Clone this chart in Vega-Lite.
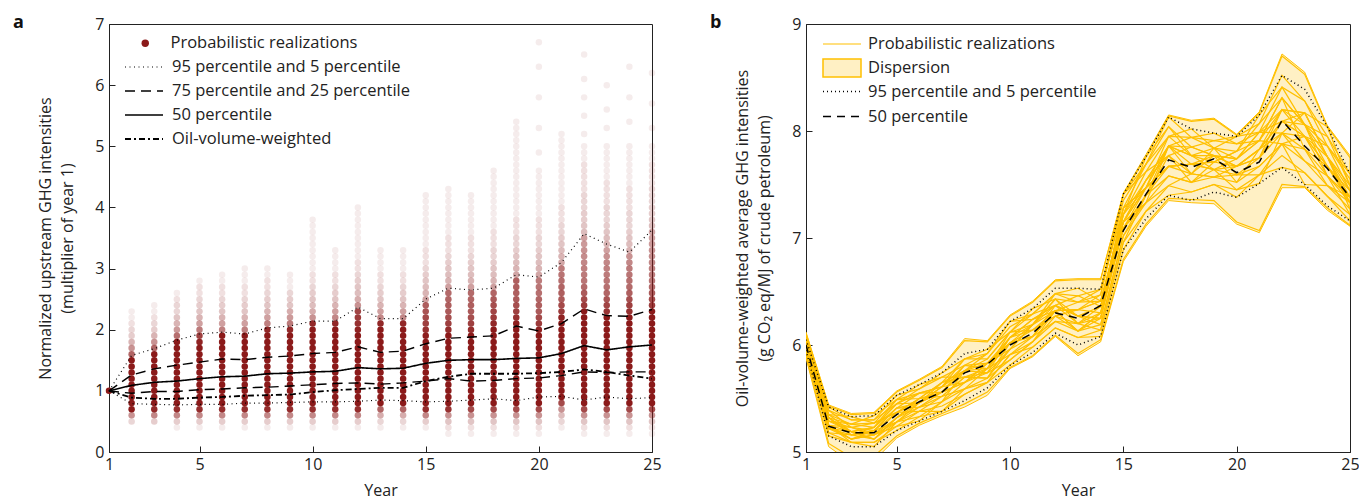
{
"$schema":"https://vega.github.io/schema/vega-lite/v6.json",
"padding":{"left":12,"top":13,"right":2,"bottom":2},
"spacing":47,
"config":{
 "font":"Open Sans",
 "view":{"stroke":"#222","strokeWidth":1},
 "axis":{"domainColor":"#222","tickColor":"#222","labelColor":"#222","titleColor":"#222","labelFontSize":16,"titleFontSize":16,"titleFontWeight":"normal","grid":false,"tickSize":-6,"labelPadding":11,"titlePadding":19,"labelFont":"Open Sans","titleFont":"Open Sans","titleLineHeight":22,"labelFlush":false,"format":"d"},
 "legend":{"labelFontSize":16.5,"labelColor":"#222","labelFont":"Open Sans","padding":0,"titlePadding":0,"labelLimit":500},
 "title":{"font":"Open Sans"}
},
"datasets":{
"sc":[
{"year":1,"v":[1],"n":[1000]},
{"year":2,"v":[0.5,0.6,0.7,0.8,0.9,1,1.1,1.2,1.3,1.4,1.5,1.6,1.7,1.8,1.9,2,2.1,2.2,2.3],"n":[3,12,35,100,100,166,166,166,80,65,55,20,12,7,4,3,2,1,1]},
{"year":3,"v":[0.5,0.6,0.7,0.8,0.9,1,1.1,1.2,1.3,1.4,1.5,1.6,1.7,1.8,1.9,2,2.1,2.2,2.3,2.4],"n":[4,14,32,100,100,125,125,125,125,80,65,55,20,12,7,4,3,2,1,1]},
{"year":4,"v":[0.4,0.5,0.6,0.7,0.8,0.9,1,1.1,1.2,1.3,1.4,1.5,1.6,1.7,1.8,1.9,2,2.1,2.2,2.3,2.4,2.5,2.6],"n":[1,4,14,31,100,100,100,100,100,100,100,65,52,45,38,18,11,7,5,3,3,2,1]},
{"year":5,"v":[0.4,0.5,0.6,0.7,0.8,0.9,1,1.1,1.2,1.3,1.4,1.5,1.6,1.7,1.8,1.9,2,2.1,2.2,2.3,2.4,2.5,2.6,2.7,2.8],"n":[1,4,14,31,67,67,67,125,125,125,125,55,45,40,33,27,16,10,7,5,4,3,2,2,1]},
{"year":6,"v":[0.4,0.5,0.6,0.7,0.8,0.9,1,1.1,1.2,1.3,1.4,1.5,1.6,1.7,1.8,1.9,2,2.1,2.2,2.3,2.4,2.5,2.6,2.7,2.8,2.9],"n":[1,4,14,31,67,67,67,100,100,100,100,100,60,52,45,40,15,10,7,5,4,3,2,2,1,1]},
{"year":7,"v":[0.4,0.5,0.6,0.7,0.8,0.9,1,1.1,1.2,1.3,1.4,1.5,1.6,1.7,1.8,1.9,2,2.1,2.2,2.3,2.4,2.5,2.6,2.7,2.8,2.9,3],"n":[1,4,14,31,67,67,67,100,100,100,100,100,60,52,45,40,15,10,7,5,4,3,2,2,1,1,1]},
{"year":8,"v":[0.4,0.5,0.6,0.7,0.8,0.9,1,1.1,1.2,1.3,1.4,1.5,1.6,1.7,1.8,1.9,2,2.1,2.2,2.3,2.4,2.5,2.6,2.7,2.8,2.9,3],"n":[1,4,14,31,67,67,67,100,100,100,100,100,50,45,38,35,32,15,10,7,5,4,3,2,2,1,1]},
{"year":9,"v":[0.4,0.5,0.6,0.7,0.8,0.9,1,1.1,1.2,1.3,1.4,1.5,1.6,1.7,1.8,1.9,2,2.1,2.2,2.3,2.4,2.5,2.6,2.7,2.8,2.9],"n":[1,4,14,31,67,67,67,100,100,100,100,100,50,45,38,35,32,16,11,8,5,4,3,1,1,1]},
{"year":10,"v":[0.4,0.5,0.6,0.7,0.8,0.9,1,1.1,1.2,1.3,1.4,1.5,1.6,1.7,1.8,1.9,2,2.1,2.2,2.3,2.4,2.5,2.6,2.7,2.8,2.9,3,3.1,3.2,3.3,3.4,3.5,3.6,3.7,3.8],"n":[1,4,14,31,67,67,67,83,83,83,83,83,83,50,45,38,35,32,12,8,6,5,4,3,2,2,1,1,1,1,1,1,1,1,1]},
{"year":11,"v":[0.4,0.5,0.6,0.7,0.8,0.9,1,1.1,1.2,1.3,1.4,1.5,1.6,1.7,1.8,1.9,2,2.1,2.2,2.3,2.4,2.5,2.6,2.7,2.8,2.9,3,3.1,3.2,3.3],"n":[1,4,14,31,67,67,67,83,83,83,83,83,83,50,45,38,35,32,14,10,7,5,4,3,2,2,1,1,1,1]},
{"year":12,"v":[0.4,0.5,0.6,0.7,0.8,0.9,1,1.1,1.2,1.3,1.4,1.5,1.6,1.7,1.8,1.9,2,2.1,2.2,2.3,2.4,2.5,2.6,2.7,2.8,2.9,3,3.1,3.2,3.3,3.4,3.5,3.6,3.7,3.8,3.9,4],"n":[1,4,14,31,50,50,50,50,83,83,83,83,83,83,45,38,33,30,28,26,12,8,6,5,4,3,2,2,1,1,1,1,1,1,1,1,1]},
{"year":13,"v":[0.4,0.5,0.6,0.7,0.8,0.9,1,1.1,1.2,1.3,1.4,1.5,1.6,1.7,1.8,1.9,2,2.1,2.2,2.3,2.4,2.5,2.6,2.7,2.8,2.9,3,3.1,3.2,3.3],"n":[1,3,8,20,40,67,67,67,100,100,100,100,100,50,45,38,35,32,14,10,7,5,4,3,2,2,1,1,1,1]},
{"year":14,"v":[0.4,0.5,0.6,0.7,0.8,0.9,1,1.1,1.2,1.3,1.4,1.5,1.6,1.7,1.8,1.9,2,2.1,2.2,2.3,2.4,2.5,2.6,2.7,2.8,2.9,3,3.1,3.2,3.3],"n":[1,3,8,20,40,67,67,67,100,100,100,100,100,50,45,38,35,32,14,10,7,5,4,3,2,2,1,1,1,1]},
{"year":15,"v":[0.4,0.5,0.6,0.7,0.8,0.9,1,1.1,1.2,1.3,1.4,1.5,1.6,1.7,1.8,1.9,2,2.1,2.2,2.3,2.4,2.5,2.6,2.7,2.8,2.9,3,3.1,3.2,3.3,3.4,3.5,3.6,3.7,3.8,3.9,4,4.1,4.2],"n":[1,4,14,31,50,50,50,50,83,83,83,83,83,83,40,34,30,27,25,23,21,10,7,6,5,4,3,2,2,2,1,1,1,1,1,1,1,1,1]},
{"year":16,"v":[0.3,0.4,0.5,0.6,0.7,0.8,0.9,1,1.1,1.2,1.3,1.4,1.5,1.6,1.7,1.8,1.9,2,2.1,2.2,2.3,2.4,2.5,2.6,2.7,2.8,2.9,3,3.1,3.2,3.3,3.4,3.5,3.6,3.7,3.8,3.9,4,4.1,4.2,4.3],"n":[1,2,5,12,30,50,50,50,50,71,71,71,71,71,71,71,36,31,27,24,22,21,20,19,10,7,6,5,4,3,2,2,2,1,1,1,1,1,1,1,1]},
{"year":17,"v":[0.3,0.4,0.5,0.6,0.7,0.8,0.9,1,1.1,1.2,1.3,1.4,1.5,1.6,1.7,1.8,1.9,2,2.1,2.2,2.3,2.4,2.5,2.6,2.7,2.8,2.9,3,3.1,3.2,3.3,3.4,3.5,3.6,3.7,3.8,3.9,4,4.1,4.2],"n":[1,2,5,12,25,40,67,67,67,71,71,71,71,71,71,71,36,31,27,24,22,21,20,19,10,7,6,5,4,3,2,2,2,1,1,1,1,1,1,1]},
{"year":18,"v":[0.3,0.4,0.5,0.6,0.7,0.8,0.9,1,1.1,1.2,1.3,1.4,1.5,1.6,1.7,1.8,1.9,2,2.1,2.2,2.3,2.4,2.5,2.6,2.7,2.8,2.9,3,3.1,3.2,3.3,3.4,3.5,3.6,3.7,3.8,3.9,4,4.1,4.2,4.3,4.4,4.5,4.6],"n":[1,2,5,12,25,40,67,67,67,62,62,62,62,62,62,62,62,38,32,28,26,24,22,20,10,7,6,5,4,3,3,2,2,2,1,1,1,1,1,1,1,1,1,1]},
{"year":19,"v":[0.3,0.4,0.5,0.6,0.7,0.8,0.9,1,1.1,1.2,1.3,1.4,1.5,1.6,1.7,1.8,1.9,2,2.1,2.2,2.3,2.4,2.5,2.6,2.7,2.8,2.9,3,3.1,3.2,3.3,3.4,3.5,3.6,3.7,3.8,3.9,4,4.1,4.2,4.3,4.4,4.5,4.6,4.7,4.8,4.9,5,5.1,5.2,5.3,5.4],"n":[1,2,5,12,25,40,67,67,67,56,56,56,56,56,56,56,56,56,34,30,27,24,22,21,21,21,9,7,6,5,4,3,3,2,2,2,1,1,1,1,1,1,1,1,1,1,1,1,1,1,1,1]},
{"year":20,"v":[0.3,0.4,0.5,0.6,0.7,0.8,0.9,1,1.1,1.2,1.3,1.4,1.5,1.6,1.7,1.8,1.9,2,2.1,2.2,2.3,2.4,2.5,2.6,2.7,2.8,2.9,3,3.1,3.2,3.3,3.4,3.5,3.6,3.7,3.8,3.9,4,4.1,4.2,4.3,4.4,4.5,4.6,4.9,5.3,5.8,6.3,6.7],"n":[1,2,5,12,25,40,50,50,50,50,71,71,71,71,71,71,71,33,28,25,22,21,20,18,17,16,9,7,6,5,4,3,3,2,2,2,1,1,1,1,1,1,1,1,1,1,1,1,1]},
{"year":21,"v":[0.4,0.5,0.6,0.7,0.8,0.9,1,1.1,1.2,1.3,1.4,1.5,1.6,1.7,1.8,1.9,2,2.1,2.2,2.3,2.4,2.5,2.6,2.7,2.8,2.9,3,3.1,3.2,3.3,3.4,3.5,3.6,3.7,3.8,3.9,4,4.1,4.2,4.3,4.4,4.5,4.6,4.7,4.8,4.9,5,5.1,5.2],"n":[1,3,6,12,25,40,67,67,67,56,56,56,56,56,56,56,56,56,33,28,25,22,21,20,18,17,16,9,7,6,5,4,3,3,2,2,2,1,1,1,1,1,1,1,1,1,1,1,1]},
{"year":22,"v":[0.3,0.4,0.5,0.6,0.7,0.8,0.9,1,1.1,1.2,1.3,1.4,1.5,1.6,1.7,1.8,1.9,2,2.1,2.2,2.3,2.4,2.5,2.6,2.7,2.8,2.9,3,3.1,3.2,3.3,3.4,3.5,3.6,3.7,3.8,3.9,4,4.1,4.2,4.3,4.4,4.5,4.6,4.7,4.8,4.9,5,5.2,5.5,5.8,6.1,6.5],"n":[1,2,5,12,25,40,40,40,40,40,40,50,50,50,50,50,50,50,50,50,50,28,25,22,19,17,16,15,14,13,12,11,10,6,5,4,4,3,3,3,2,2,2,2,2,1,1,1,1,1,1,1,1]},
{"year":23,"v":[0.3,0.4,0.5,0.6,0.7,0.8,0.9,1,1.1,1.2,1.3,1.4,1.5,1.6,1.7,1.8,1.9,2,2.1,2.2,2.3,2.4,2.5,2.6,2.7,2.8,2.9,3,3.1,3.2,3.3,3.4,3.5,3.6,3.7,3.8,3.9,4,4.1,4.2,4.3,4.4,4.5,4.6,4.7,4.8,4.9,5,5.3,5.6,6],"n":[1,2,5,12,25,40,40,40,40,40,40,56,56,56,56,56,56,56,56,56,29,26,23,20,18,17,16,15,14,12,10,7,6,5,4,3,3,3,2,2,2,2,1,1,1,1,1,1,1,1,1]},
{"year":24,"v":[0.3,0.4,0.5,0.6,0.7,0.8,0.9,1,1.1,1.2,1.3,1.4,1.5,1.6,1.7,1.8,1.9,2,2.1,2.2,2.3,2.4,2.5,2.6,2.7,2.8,2.9,3,3.1,3.2,3.3,3.4,3.5,3.6,3.7,3.8,3.9,4,4.1,4.2,4.3,4.4,4.5,4.6,4.7,4.8,4.9,5,5.4,5.8,6.3],"n":[1,2,5,12,25,40,40,40,40,40,40,56,56,56,56,56,56,56,56,56,30,27,24,21,19,18,17,16,14,12,7,6,5,4,3,3,3,2,2,2,2,1,1,1,1,1,1,1,1,1,1]},
{"year":25,"v":[0.3,0.4,0.5,0.6,0.7,0.8,0.9,1,1.1,1.2,1.3,1.4,1.5,1.6,1.7,1.8,1.9,2,2.1,2.2,2.3,2.4,2.5,2.6,2.7,2.8,2.9,3,3.1,3.2,3.3,3.4,3.5,3.6,3.7,3.8,3.9,4,4.1,4.2,4.3,4.4,4.5,4.6,4.7,4.8,4.9,5,5.3,5.7,6.2],"n":[1,2,5,12,25,40,40,40,40,40,40,50,50,50,50,50,50,50,50,50,50,28,25,22,19,17,16,15,14,13,12,11,10,9,6,5,4,4,3,3,3,2,2,2,2,1,1,1,1,1,1]}
],
"pa":[
{"year":1,"p5":1,"p25":1,"p50":1,"p75":1,"p95":1,"ovw":1},
{"year":2,"p5":0.79,"p25":0.96,"p50":1.09,"p75":1.26,"p95":1.58,"ovw":0.89},
{"year":3,"p5":0.78,"p25":0.99,"p50":1.14,"p75":1.36,"p95":1.69,"ovw":0.87},
{"year":4,"p5":0.77,"p25":0.99,"p50":1.16,"p75":1.42,"p95":1.83,"ovw":0.87},
{"year":5,"p5":0.78,"p25":1.02,"p50":1.2,"p75":1.47,"p95":1.93,"ovw":0.89},
{"year":6,"p5":0.78,"p25":1.03,"p50":1.23,"p75":1.52,"p95":1.96,"ovw":0.9},
{"year":7,"p5":0.8,"p25":1.05,"p50":1.24,"p75":1.51,"p95":1.93,"ovw":0.92},
{"year":8,"p5":0.8,"p25":1.06,"p50":1.28,"p75":1.55,"p95":2.03,"ovw":0.93},
{"year":9,"p5":0.81,"p25":1.08,"p50":1.29,"p75":1.57,"p95":2.06,"ovw":0.94},
{"year":10,"p5":0.82,"p25":1.1,"p50":1.31,"p75":1.61,"p95":2.14,"ovw":0.98},
{"year":11,"p5":0.82,"p25":1.12,"p50":1.32,"p75":1.63,"p95":2.14,"ovw":1.01},
{"year":12,"p5":0.83,"p25":1.13,"p50":1.38,"p75":1.72,"p95":2.37,"ovw":1.03},
{"year":13,"p5":0.85,"p25":1.11,"p50":1.36,"p75":1.63,"p95":2.18,"ovw":1.05},
{"year":14,"p5":0.84,"p25":1.13,"p50":1.37,"p75":1.65,"p95":2.18,"ovw":1.05},
{"year":15,"p5":0.82,"p25":1.16,"p50":1.45,"p75":1.77,"p95":2.5,"ovw":1.16},
{"year":16,"p5":0.83,"p25":1.2,"p50":1.5,"p75":1.86,"p95":2.68,"ovw":1.23},
{"year":17,"p5":0.85,"p25":1.16,"p50":1.51,"p75":1.88,"p95":2.65,"ovw":1.28},
{"year":18,"p5":0.87,"p25":1.17,"p50":1.51,"p75":1.9,"p95":2.68,"ovw":1.28},
{"year":19,"p5":0.84,"p25":1.2,"p50":1.53,"p75":2.06,"p95":2.9,"ovw":1.28},
{"year":20,"p5":0.9,"p25":1.21,"p50":1.54,"p75":1.98,"p95":2.86,"ovw":1.29},
{"year":21,"p5":0.91,"p25":1.25,"p50":1.61,"p75":2.1,"p95":3.1,"ovw":1.31},
{"year":22,"p5":0.85,"p25":1.31,"p50":1.74,"p75":2.34,"p95":3.57,"ovw":1.35},
{"year":23,"p5":0.9,"p25":1.3,"p50":1.67,"p75":2.23,"p95":3.4,"ovw":1.31},
{"year":24,"p5":0.87,"p25":1.31,"p50":1.72,"p75":2.22,"p95":3.27,"ovw":1.25},
{"year":25,"p5":0.89,"p25":1.31,"p50":1.75,"p75":2.33,"p95":3.63,"ovw":1.2}
],
"pb":[
{"year":1,"mn":5.88,"mx":6.12,"p5":5.95,"p50":6,"p95":6.05},
{"year":2,"mn":5.05,"mx":5.44,"p5":5.15,"p50":5.24,"p95":5.42},
{"year":3,"mn":4.9,"mx":5.36,"p5":5.05,"p50":5.18,"p95":5.33},
{"year":4,"mn":4.92,"mx":5.37,"p5":5.05,"p50":5.18,"p95":5.34},
{"year":5,"mn":5.13,"mx":5.57,"p5":5.2,"p50":5.35,"p95":5.53},
{"year":6,"mn":5.25,"mx":5.68,"p5":5.29,"p50":5.47,"p95":5.63},
{"year":7,"mn":5.34,"mx":5.8,"p5":5.38,"p50":5.56,"p95":5.74},
{"year":8,"mn":5.42,"mx":6.06,"p5":5.48,"p50":5.74,"p95":5.92},
{"year":9,"mn":5.53,"mx":6.04,"p5":5.6,"p50":5.82,"p95":5.96},
{"year":10,"mn":5.78,"mx":6.28,"p5":5.81,"p50":6,"p95":6.22},
{"year":11,"mn":5.89,"mx":6.41,"p5":5.93,"p50":6.11,"p95":6.34},
{"year":12,"mn":6.08,"mx":6.61,"p5":6.11,"p50":6.3,"p95":6.53},
{"year":13,"mn":5.9,"mx":6.62,"p5":6,"p50":6.25,"p95":6.53},
{"year":14,"mn":6.03,"mx":6.62,"p5":6.08,"p50":6.37,"p95":6.52},
{"year":15,"mn":6.78,"mx":7.42,"p5":6.89,"p50":7.07,"p95":7.41},
{"year":16,"mn":7.11,"mx":7.78,"p5":7.18,"p50":7.41,"p95":7.76},
{"year":17,"mn":7.35,"mx":8.15,"p5":7.4,"p50":7.73,"p95":8.13},
{"year":18,"mn":7.33,"mx":8.1,"p5":7.35,"p50":7.66,"p95":8.02},
{"year":19,"mn":7.32,"mx":8.12,"p5":7.43,"p50":7.74,"p95":7.98},
{"year":20,"mn":7.13,"mx":7.97,"p5":7.38,"p50":7.61,"p95":7.95},
{"year":21,"mn":7.05,"mx":8.18,"p5":7.51,"p50":7.71,"p95":8.15},
{"year":22,"mn":7.47,"mx":8.72,"p5":7.66,"p50":8.1,"p95":8.52},
{"year":23,"mn":7.47,"mx":8.55,"p5":7.5,"p50":7.86,"p95":8.39},
{"year":24,"mn":7.26,"mx":8.05,"p5":7.3,"p50":7.65,"p95":8.04},
{"year":25,"mn":7.11,"mx":7.77,"p5":7.16,"p50":7.38,"p95":7.6}
],
"rb":[
{"run":"A","year":[1,2,3,4,5,6,7,8,9,10,11,12,13,14,15,16,17,18,19,20,21,22,23,24,25],"v":[6.00,5.29,5.19,5.23,5.41,5.46,5.56,5.76,5.83,6.02,6.14,6.32,6.33,6.30,7.15,7.47,7.67,7.69,7.71,7.67,7.83,8.09,7.95,7.67,7.38]},
{"run":"B","year":[1,2,3,4,5,6,7,8,9,10,11,12,13,14,15,16,17,18,19,20,21,22,23,24,25],"v":[6.03,5.35,5.26,5.23,5.45,5.55,5.61,5.76,5.87,6.12,6.19,6.43,6.40,6.41,7.22,7.62,7.95,7.77,7.84,7.74,7.99,8.20,8.17,7.76,7.49]},
{"run":"C","year":[1,2,3,4,5,6,7,8,9,10,11,12,13,14,15,16,17,18,19,20,21,22,23,24,25],"v":[5.98,5.25,5.12,5.16,5.32,5.42,5.47,5.65,5.74,5.96,6.08,6.22,6.20,6.25,7.09,7.40,7.67,7.60,7.57,7.59,7.75,7.98,7.83,7.58,7.33]},
{"run":"D","year":[1,2,3,4,5,6,7,8,9,10,11,12,13,14,15,16,17,18,19,20,21,22,23,24,25],"v":[6.05,5.39,5.30,5.30,5.45,5.59,5.70,5.81,5.92,6.17,6.29,6.48,6.40,6.47,7.35,7.69,8.04,7.85,7.91,7.88,7.99,8.41,8.28,7.86,7.55]},
{"run":"E","year":[1,2,3,4,5,6,7,8,9,10,11,12,13,14,15,16,17,18,19,20,21,22,23,24,25],"v":[5.95,5.22,5.16,5.12,5.28,5.33,5.47,5.59,5.69,5.86,6.03,6.22,6.13,6.19,7.02,7.33,7.58,7.52,7.57,7.52,7.67,7.88,7.72,7.49,7.27]},
{"run":"F","year":[1,2,3,4,5,6,7,8,9,10,11,12,13,14,15,16,17,18,19,20,21,22,23,24,25],"v":[6.00,5.25,5.19,5.16,5.37,5.50,5.65,5.70,5.74,6.07,6.24,6.37,6.27,6.25,7.15,7.54,7.77,7.85,7.77,7.67,7.75,8.09,8.06,7.86,7.44]},
{"run":"G","year":[1,2,3,4,5,6,7,8,9,10,11,12,13,14,15,16,17,18,19,20,21,22,23,24,25],"v":[6.08,5.32,5.16,5.20,5.28,5.42,5.56,5.81,5.78,5.91,6.08,6.32,6.33,6.41,7.09,7.33,7.86,7.69,7.64,7.74,7.99,7.98,7.72,7.58,7.38]},
{"run":"H","year":[1,2,3,4,5,6,7,8,9,10,11,12,13,14,15,16,17,18,19,20,21,22,23,24,25],"v":[5.93,5.18,5.09,5.09,5.24,5.38,5.43,5.54,5.65,5.91,5.98,6.16,6.07,6.14,6.96,7.25,7.49,7.43,7.50,7.45,7.59,7.77,7.61,7.39,7.22]},
{"run":"I","year":[1,2,3,4,5,6,7,8,9,10,11,12,13,14,15,16,17,18,19,20,21,22,23,24,25],"v":[6.03,5.29,5.23,5.27,5.37,5.50,5.52,5.70,5.78,6.07,6.14,6.27,6.20,6.36,7.28,7.47,7.86,7.77,7.71,7.81,7.91,8.31,7.83,7.67,7.33]},
{"run":"J","year":[1,2,3,4,5,6,7,8,9,10,11,12,13,14,15,16,17,18,19,20,21,22,23,24,25],"v":[5.98,5.32,5.19,5.12,5.32,5.46,5.61,5.65,5.83,5.96,6.19,6.43,6.27,6.19,7.02,7.40,7.77,7.60,7.77,7.52,7.83,8.20,7.95,7.76,7.27]},
{"run":"K","year":[1,2,3,4,5,6,7,8,9,10,11,12,13,14,15,16,17,18,19,20,21,22,23,24,25],"v":[6.05,5.32,5.26,5.27,5.49,5.50,5.65,5.87,5.87,6.12,6.29,6.37,6.46,6.36,7.28,7.69,7.95,7.94,7.84,7.81,8.07,8.31,8.06,7.95,7.49]},
{"run":"L","year":[1,2,3,4,5,6,7,8,9,10,11,12,13,14,15,16,17,18,19,20,21,22,23,24,25],"v":[5.95,5.22,5.12,5.16,5.28,5.38,5.52,5.59,5.65,5.91,6.03,6.27,6.13,6.30,7.09,7.40,7.58,7.52,7.64,7.59,7.67,7.88,7.83,7.49,7.33]},
{"run":"M","year":[1,2,3,4,5,6,7,8,9,10,11,12,13,14,15,16,17,18,19,20,21,22,23,24,25],"v":[6.08,5.42,5.30,5.30,5.53,5.59,5.74,5.87,5.92,6.22,6.29,6.48,6.46,6.52,7.41,7.69,8.13,7.94,7.91,7.95,8.07,8.52,8.28,7.95,7.60]},
{"run":"N","year":[1,2,3,4,5,6,7,8,9,10,11,12,13,14,15,16,17,18,19,20,21,22,23,24,25],"v":[5.93,5.15,5.09,5.09,5.20,5.33,5.38,5.54,5.65,5.81,5.98,6.16,6.07,6.08,6.89,7.25,7.40,7.43,7.50,7.38,7.59,7.66,7.61,7.39,7.16]},
{"run":"O","year":[1,2,3,4,5,6,7,8,9,10,11,12,13,14,15,16,17,18,19,20,21,22,23,24,25],"v":[6.00,5.32,5.16,5.20,5.41,5.42,5.52,5.70,5.69,6.02,6.08,6.32,6.13,6.30,7.22,7.47,7.67,7.69,7.64,7.67,7.83,7.98,7.95,7.58,7.38]},
{"run":"P","year":[1,2,3,4,5,6,7,8,9,10,11,12,13,14,15,16,17,18,19,20,21,22,23,24,25],"v":[6.03,5.25,5.23,5.20,5.37,5.46,5.56,5.76,5.78,6.02,6.19,6.37,6.27,6.36,7.15,7.54,7.86,7.77,7.77,7.74,7.91,8.20,8.06,7.76,7.44]},
{"run":"Q","year":[1,2,3,4,5,6,7,8,9,10,11,12,13,14,15,16,17,18,19,20,21,22,23,24,25],"v":[5.95,5.29,5.26,5.34,5.49,5.55,5.61,5.87,5.96,6.12,6.14,6.27,6.33,6.47,7.41,7.62,7.77,7.52,7.71,7.81,8.15,8.41,8.06,7.58,7.22]},
{"run":"R","year":[1,2,3,4,5,6,7,8,9,10,11,12,13,14,15,16,17,18,19,20,21,22,23,24,25],"v":[6.05,5.25,5.09,5.05,5.28,5.46,5.65,5.76,5.74,5.86,6.03,6.32,6.40,6.52,7.28,7.47,7.95,8.02,7.84,7.59,7.59,7.88,7.95,7.86,7.60]},
{"run":"S","year":[1,2,3,4,5,6,7,8,9,10,11,12,13,14,15,16,17,18,19,20,21,22,23,24,25],"v":[6.00,5.35,5.33,5.27,5.37,5.38,5.38,5.59,5.78,6.12,6.34,6.43,6.20,6.14,6.96,7.40,7.86,7.94,7.98,7.88,7.91,7.88,7.50,7.49,7.38]},
{"run":"T","year":[1,2,3,4,5,6,7,8,9,10,11,12,13,14,15,16,17,18,19,20,21,22,23,24,25],"v":[5.98,5.18,5.16,5.23,5.49,5.63,5.70,5.70,5.69,5.96,6.19,6.48,6.53,6.41,7.15,7.33,7.49,7.60,7.84,7.95,7.99,8.09,8.17,8.04,7.49]},
{"run":"U","year":[1,2,3,4,5,6,7,8,9,10,11,12,13,14,15,16,17,18,19,20,21,22,23,24,25],"v":[6.03,5.39,5.23,5.16,5.24,5.29,5.47,5.76,5.92,6.22,6.24,6.32,6.13,6.25,7.22,7.76,8.04,7.77,7.64,7.45,7.51,7.98,8.17,7.76,7.33]},
{"run":"V","year":[1,2,3,4,5,6,7,8,9,10,11,12,13,14,15,16,17,18,19,20,21,22,23,24,25],"v":[5.93,5.22,5.19,5.12,5.32,5.50,5.56,5.65,5.83,6.02,6.08,6.37,6.27,6.25,7.15,7.47,7.67,7.69,7.77,7.67,7.83,8.09,7.95,7.67,7.38]},
{"run":"W","year":[1,2,3,4,5,6,7,8,9,10,11,12,13,14,15,16,17,18,19,20,21,22,23,24,25],"v":[6.08,5.35,5.19,5.23,5.45,5.46,5.61,5.81,5.83,6.07,6.19,6.32,6.33,6.41,7.22,7.54,7.86,7.85,7.77,7.74,7.91,8.31,8.06,7.67,7.44]},
{"run":"X","year":[1,2,3,4,5,6,7,8,9,10,11,12,13,14,15,16,17,18,19,20,21,22,23,24,25],"v":[5.95,5.25,5.12,5.20,5.41,5.55,5.56,5.65,5.78,6.07,6.24,6.37,6.20,6.30,7.09,7.47,7.86,7.60,7.57,7.67,7.75,8.20,8.17,7.76,7.38]},
{"run":"Y","year":[1,2,3,4,5,6,7,8,9,10,11,12,13,14,15,16,17,18,19,20,21,22,23,24,25],"v":[5.90,5.08,4.95,4.96,5.15,5.27,5.36,5.45,5.56,5.79,5.90,6.09,5.92,6.05,6.80,7.13,7.37,7.36,7.35,7.15,7.07,7.50,7.48,7.28,7.12]},
{"run":"Z","year":[1,2,3,4,5,6,7,8,9,10,11,12,13,14,15,16,17,18,19,20,21,22,23,24,25],"v":[6.11,5.43,5.35,5.36,5.56,5.67,5.79,6.04,6.03,6.27,6.40,6.60,6.61,6.61,7.41,7.76,8.14,8.09,8.11,7.96,8.17,8.70,8.53,8.04,7.75]}
]
},
"hconcat":[
{
 "width":543,"height":428,
 "title":{"text":"a","anchor":"start","frame":"group","dx":-96,"dy":30,"fontSize":18,"fontWeight":"bold","baseline":"alphabetic","offset":0,"color":"#111"},
 "layer":[
  {
   "data":{"name":"sc"},
   "transform":[{"flatten":["v","n"]}],
   "mark":{"type":"point","filled":true,"size":42,"strokeWidth":0,"shape":"circle"},
   "encoding":{
    "x":{"field":"year","type":"quantitative","scale":{"domain":[1,25],"nice":false,"zero":false},"axis":{"values":[1,5,10,15,20,25],"title":"Year","labelPadding":10,"titlePadding":10}},
    "y":{"field":"v","type":"quantitative","scale":{"domain":[0,7],"nice":false},"axis":{"values":[0,1,2,3,4,5,6,7],"title":["Normalized upstream GHG intensities","(multiplier of year 1)"]}},
    "opacity":{"field":"n","type":"quantitative","scale":{"type":"pow","exponent":0.7,"domain":[0,35],"range":[0,1],"clamp":true},"legend":null},
    "color":{"datum":"Probabilistic realizations","scale":{"range":["#8B1A1A"]},"legend":{"title":null,"orient":"none","legendX":28,"legendY":11,"symbolType":"circle","symbolSize":55,"symbolOpacity":1,"symbolStrokeWidth":0,"labelOffset":17}}
   }
  },
  {
   "data":{"name":"pa"},
   "transform":[
    {"fold":["p95","p5","p75","p25","p50","ovw"],"as":["key","v"]},
    {"lookup":"key","from":{"data":{"values":[
      {"key":"p95","series":"95 percentile and 5 percentile"},
      {"key":"p5","series":"95 percentile and 5 percentile"},
      {"key":"p75","series":"75 percentile and 25 percentile"},
      {"key":"p25","series":"75 percentile and 25 percentile"},
      {"key":"p50","series":"50 percentile"},
      {"key":"ovw","series":"Oil-volume-weighted"}]},"key":"key","fields":["series"]}}
   ],
   "mark":{"type":"line","color":"black"},
   "encoding":{
    "x":{"field":"year","type":"quantitative","scale":{"domain":[1,25],"nice":false,"zero":false}},
    "y":{"field":"v","type":"quantitative","scale":{"domain":[0,7],"nice":false}},
    "detail":{"field":"key"},
    "strokeDash":{"field":"series","type":"ordinal","scale":{"domain":["95 percentile and 5 percentile","75 percentile and 25 percentile","50 percentile","Oil-volume-weighted"],"range":[[1,3.5],[10,6],[1,0],[6,3,2,3]]},"legend":{"title":null,"orient":"none","legendX":15,"legendY":31,"symbolType":"stroke","symbolSize":1444,"symbolStrokeColor":"black","labelOffset":8,"rowPadding":0,"clipHeight":24}},
    "strokeWidth":{"field":"series","type":"ordinal","scale":{"domain":["95 percentile and 5 percentile","75 percentile and 25 percentile","50 percentile","Oil-volume-weighted"],"range":[1.2,1.8,2.2,2.4]},"legend":{"title":null,"orient":"none","legendX":15,"legendY":31,"symbolType":"stroke","symbolSize":1444,"symbolStrokeColor":"black","labelOffset":8,"rowPadding":0,"clipHeight":24}}
   }
  }
 ]
},
{
 "width":544,"height":428,
 "title":{"text":"b","anchor":"start","frame":"group","dx":-96,"dy":30,"fontSize":18,"fontWeight":"bold","baseline":"alphabetic","offset":0,"color":"#111"},
 "layer":[
  {
   "data":{"name":"pb"},
   "mark":{"type":"area","stroke":"#FFC000","strokeWidth":1,"clip":true,"opacity":1,"fillOpacity":1},
   "encoding":{
    "x":{"field":"year","type":"quantitative","scale":{"domain":[1,25],"nice":false,"zero":false},"axis":{"values":[1,5,10,15,20,25],"title":"Year","labelPadding":10,"titlePadding":10}},
    "y":{"field":"mn","type":"quantitative","scale":{"domain":[5,9],"nice":false,"zero":false},"axis":{"values":[5,6,7,8,9],"title":["Oil-volume-weighted average GHG intensities","(g CO₂ eq/MJ of crude petroleum)"]}},
    "y2":{"field":"mx"},
    "fill":{"datum":"Dispersion","scale":{"range":["#FFF0C4"]},"legend":{"title":null,"orient":"none","legendX":16,"legendY":24,"symbolType":"M-1,-0.47H1V0.47H-1Z","symbolSize":1444,"symbolStrokeColor":"#FFC000","symbolStrokeWidth":1.5,"labelOffset":6}}
   }
  },
  {
   "data":{"name":"rb"},
   "transform":[{"flatten":["year","v"]}],
   "mark":{"type":"line","strokeWidth":1.2,"clip":true},
   "encoding":{
    "x":{"field":"year","type":"quantitative","scale":{"domain":[1,25],"nice":false,"zero":false}},
    "y":{"field":"v","type":"quantitative","scale":{"domain":[5,9],"nice":false,"zero":false},"title":["Oil-volume-weighted average GHG intensities","(g CO₂ eq/MJ of crude petroleum)"]},
    "detail":{"field":"run"},
    "stroke":{"datum":"Probabilistic realizations","scale":{"range":["#FFC000"]},"legend":{"title":null,"orient":"none","legendX":16,"legendY":0,"symbolType":"stroke","symbolSize":1444,"symbolStrokeWidth":1.2,"labelOffset":6}}
   }
  },
  {
   "data":{"name":"pb"},
   "transform":[
    {"fold":["p95","p5","p50"],"as":["key","v"]},
    {"lookup":"key","from":{"data":{"values":[
      {"key":"p95","series":"95 percentile and 5 percentile"},
      {"key":"p5","series":"95 percentile and 5 percentile"},
      {"key":"p50","series":"50 percentile"}]},"key":"key","fields":["series"]}}
   ],
   "mark":{"type":"line","color":"black","strokeWidth":1.5,"clip":true},
   "encoding":{
    "x":{"field":"year","type":"quantitative","scale":{"domain":[1,25],"nice":false,"zero":false}},
    "y":{"field":"v","type":"quantitative","scale":{"domain":[5,9],"nice":false,"zero":false},"title":["Oil-volume-weighted average GHG intensities","(g CO₂ eq/MJ of crude petroleum)"]},
    "detail":{"field":"key"},
    "strokeDash":{"field":"series","type":"ordinal","scale":{"domain":["95 percentile and 5 percentile","50 percentile"],"range":[[1,3],[8,6]]},"legend":{"title":null,"orient":"none","legendX":16,"legendY":55,"symbolType":"stroke","symbolSize":1444,"symbolStrokeColor":"black","symbolStrokeWidth":1.3,"labelOffset":6,"rowPadding":0,"clipHeight":25}}
   }
  }
 ]
}
],
"resolve":{
 "scale":{"x":"independent","y":"independent","color":"independent","fill":"independent","stroke":"independent","strokeDash":"independent","strokeWidth":"independent","opacity":"independent"},
 "axis":{"x":"independent","y":"independent"},
 "legend":{"color":"independent","fill":"independent","stroke":"independent","strokeDash":"independent","strokeWidth":"independent","opacity":"independent"}
}
}
